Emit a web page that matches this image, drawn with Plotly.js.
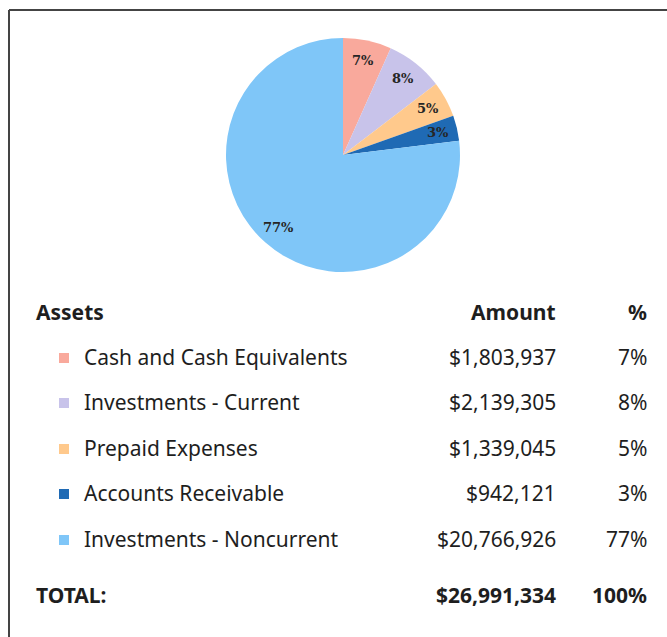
<!DOCTYPE html>
<html>
<head>
<meta charset="utf-8">
<script src="https://cdn.plot.ly/plotly-3.0.1.min.js"></script>
<style>
  html, body { margin: 0; padding: 0; background: #fff; }
  #chart { width: 667px; height: 637px; }
</style>
</head>
<body>
<div id="chart"></div>
<script>
// ---- data ----
const categories = ["Cash and Cash Equivalents", "Investments - Current", "Prepaid Expenses", "Accounts Receivable", "Investments - Noncurrent"];
const amounts = [1803937, 2139305, 1339045, 942121, 20766926];
const sliceColors = ["#F9A99C", "#C8C3EA", "#FFC98C", "#1F6AB4", "#7FC6F8"];
const headerLabels = ["Assets", "Amount", "%"];
const totalLabel = "TOTAL:";

// ---- layout helpers ----
const W = 667, H = 637;
const px = x => x / W;
const py = y => 1 - y / H;

const total = amounts.reduce((a, b) => a + b, 0);
const fmtMoney = v => "$" + v.toLocaleString("en-US");
const pct = v => Math.round(v / total * 100) + "%";

// pie placement (pixels)
const pieBox = { x0: 226, x1: 460, y0: 38, y1: 272 };
const cx = (pieBox.x0 + pieBox.x1) / 2, cy = (pieBox.y0 + pieBox.y1) / 2, R = (pieBox.x1 - pieBox.x0) / 2;

const pie = {
  type: "pie",
  labels: categories,
  values: amounts,
  sort: false,
  direction: "clockwise",
  rotation: 0,
  marker: { colors: sliceColors, line: { width: 0 } },
  textinfo: "none",
  hoverinfo: "none",
  showlegend: false,
  domain: { x: [px(pieBox.x0), px(pieBox.x1)], y: [py(pieBox.y1), py(pieBox.y0)] }
};

const annotations = [];
function addText(text, x, y, anchor, font) {
  annotations.push({
    text: text, x: px(x), y: py(y), xref: "paper", yref: "paper",
    xanchor: anchor, yanchor: "middle", showarrow: false, font: font
  });
}

// slice labels at the "inside end" position along each slice's mid-angle
const labelFont = { family: "DejaVu Serif, serif", size: 13, color: "#262626", weight: "bold" };
let cum = 0;
amounts.forEach(v => {
  const theta = (cum + v / 2) / total * 2 * Math.PI;
  cum += v;
  const r = 0.83 * R;
  addText(pct(v), cx + r * Math.sin(theta), cy - r * Math.cos(theta), "center", labelFont);
});

const rowY = [357, 402, 448, 493, 539];
const textFont = { family: "Noto Sans, Open Sans, sans-serif", size: 21, color: "#1e1e1e" };
const boldFont = { family: "Noto Sans, Open Sans, sans-serif", size: 21, color: "#1e1e1e", weight: "bold" };

// header
addText(headerLabels[0], 34, 312, "left", boldFont);
addText(headerLabels[1], 558, 312, "right", boldFont);
addText(headerLabels[2], 649, 312, "right", boldFont);
// rows
const shapes = [];
categories.forEach((c, i) => {
  addText(c, 82, rowY[i], "left", textFont);
  addText(fmtMoney(amounts[i]), 558, rowY[i], "right", textFont);
  addText(pct(amounts[i]), 649, rowY[i], "right", textFont);
  shapes.push({
    type: "rect", xref: "paper", yref: "paper",
    x0: px(59), x1: px(69), y0: py(rowY[i] + 6), y1: py(rowY[i] - 4),
    fillcolor: sliceColors[i], line: { width: 0 }
  });
});
// total
addText(totalLabel, 34, 595, "left", boldFont);
addText(fmtMoney(total), 558, 595, "right", boldFont);
addText(Math.round(total / total * 100) + "%", 649, 595, "right", boldFont);

// frame
shapes.push({ type: "line", xref: "paper", yref: "paper", x0: px(9), x1: px(667), y0: py(10), y1: py(10), line: { color: "#444", width: 2 } });
shapes.push({ type: "line", xref: "paper", yref: "paper", x0: px(9), x1: px(9), y0: py(10), y1: py(637), line: { color: "#444", width: 2 } });

const layout = {
  width: W, height: H,
  margin: { l: 0, r: 0, t: 0, b: 0 },
  paper_bgcolor: "#ffffff",
  plot_bgcolor: "#ffffff",
  showlegend: false,
  annotations: annotations,
  shapes: shapes
};

Plotly.newPlot("chart", [pie], layout, { displayModeBar: false, staticPlot: true });
</script>
</body>
</html>
